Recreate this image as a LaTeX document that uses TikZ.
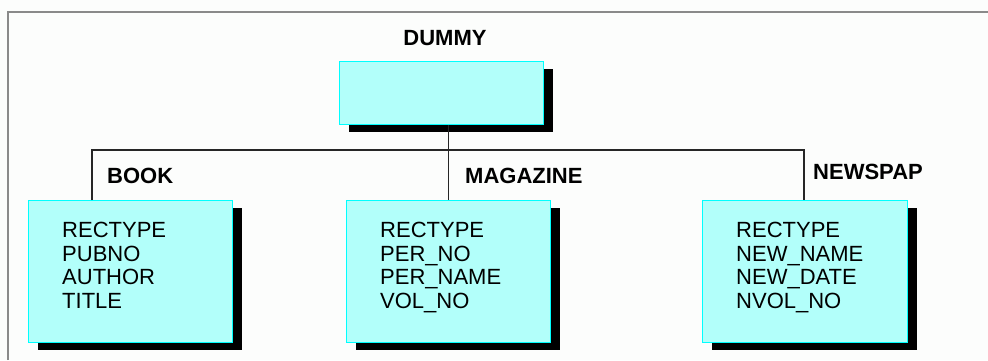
\documentclass[tikz,border=0pt]{standalone}
\usepackage{fontspec}
\setmainfont{Liberation Sans}
\usetikzlibrary{shadows}
\definecolor{boxcyan}{HTML}{B2FFFA}
\definecolor{edgecyan}{HTML}{00FFFF}
\definecolor{framegray}{HTML}{8A8A8A}
\definecolor{paper}{HTML}{FCFDFC}

\begin{document}
\begin{tikzpicture}[x=1pt,y=1pt,
    recbox/.style={draw=edgecyan,fill=boxcyan,line width=1.2pt,anchor=north west,
      minimum width=204pt,inner sep=0pt,
      drop shadow={shadow xshift=9pt,shadow yshift=-7pt,fill=black,opacity=1}},
    fields/.style={anchor=north west,inner sep=0pt,align=left,
      font=\fontsize{22}{23.7}\selectfont},
    reclabel/.style={inner sep=0pt,font=\bfseries\fontsize{22}{24}\selectfont},
    link/.style={draw=black!85,line width=1.2pt}]
  \fill[paper] (0,0) rectangle (988,360);
  \useasboundingbox (0,0) rectangle (988,360);
  % frame
  \draw[framegray,line width=1.5pt] (8,0) -- (8,348) -- (988,348);
  % root segment
  \node[recbox,minimum height=63pt] (dummy) at (339,299) {};
  \node[reclabel] (dummylbl) at (445,322) {DUMMY};
  % record segments
  \node[recbox,minimum height=142pt] (book) at (28,160) {};
  \node[recbox,minimum height=142pt] (mag) at (346,160) {};
  \node[recbox,minimum height=142pt,minimum width=205pt] (news) at (702,160) {};
  \node[fields] (bookfld) at ([xshift=34pt,yshift=-22pt]book.north west)
    {RECTYPE\\PUBNO\\AUTHOR\\TITLE};
  \node[fields] (magfld) at ([xshift=34pt,yshift=-22pt]mag.north west)
    {RECTYPE\\PER\_NO\\PER\_NAME\\VOL\_NO};
  \node[fields] (newsfld) at ([xshift=34pt,yshift=-22pt]news.north west)
    {RECTYPE\\NEW\_NAME\\NEW\_DATE\\NVOL\_NO};
  % segment names
  \node[reclabel,anchor=west] (booklbl) at (107,184) {BOOK};
  \node[reclabel,anchor=west] (maglbl) at (465,184) {MAGAZINE};
  \node[reclabel,anchor=west] (newslbl) at (813,188) {NEWSPAP};
  % connectors
  \coordinate (busL) at (92,210);
  \coordinate (busR) at (804,210);
  \draw[link] (busL |- book.north) -- (busL) -- (busR) -- (busR |- news.north);
  \draw[link] (dummy.south -| mag.north) -- (mag.north);
\end{tikzpicture}
\end{document}
